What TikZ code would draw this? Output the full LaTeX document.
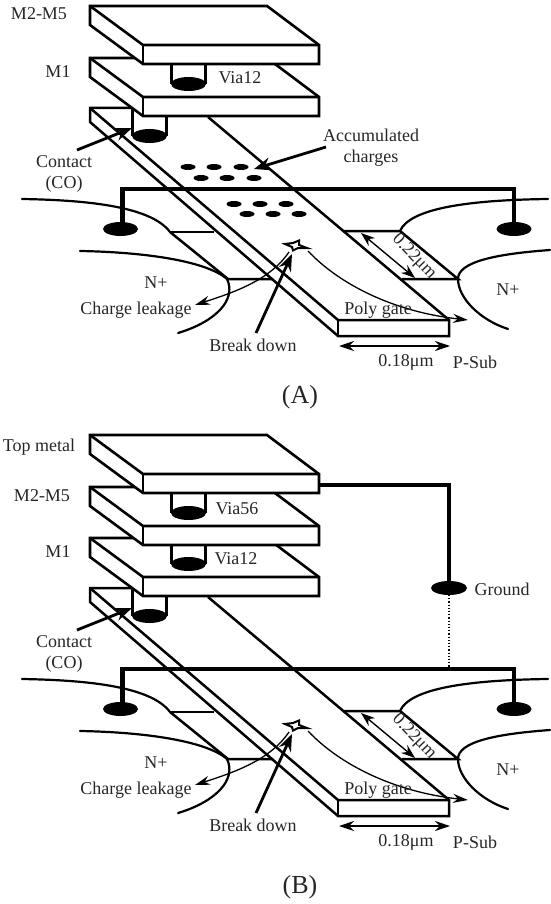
\documentclass[tikz,border=0pt]{standalone}
\usepackage{fontspec}
\setmainfont{Liberation Serif}
\usetikzlibrary{arrows.meta}
\tikzset{
  plate/.style={draw=black,fill=white,line width=2.6pt,line join=miter},
  gateline/.style={draw=black,line width=2.5pt,line join=miter},
  metalwire/.style={draw=black,line width=4.8pt,line join=miter},
  pad/.style={fill=black,draw=none},
  curveline/.style={draw=black,line width=2.2pt,line cap=round},
  dimline/.style={draw=black,line width=1.4pt,{Stealth[length=15pt,width=10pt]}-{Stealth[length=15pt,width=10pt]}},
  callout/.style={draw=black,line width=2.8pt,-{Stealth[length=17pt,width=13pt]}},
  flow/.style={draw=black,line width=1.3pt,-{Stealth[length=15pt,width=9pt]}},
  lbl/.style={font=\fontsize{18}{18}\selectfont,text=black!85,inner sep=0pt,align=center},
  capt/.style={font=\fontsize{26}{26}\selectfont,text=black!85,inner sep=0pt},
}
\newcommand{\metalplate}[1]{% y of back edge
  \path[plate] (90,#1) -- (267,#1) -- (319,#1+39) -- (319,#1+58) -- (143,#1+58) -- (90,#1+19) -- cycle;
  \draw[plate,fill=none] (90,#1) -- (143,#1+39) -- (319,#1+39);
  \draw[plate,fill=none] (143,#1+39) -- (143,#1+58);
}
\newcommand{\viaplug}[3]{% x centre, y top, y of ellipse
  \path[fill=white] (#1-17,#2) rectangle (#1+17,#3);
  \draw[gateline] (#1-17,#2) -- (#1-17,#3) (#1+17,#2) -- (#1+17,#3);
  \fill[pad] (#1,#3) ellipse (17.5 and 7);
}
\newcommand{\device}[1]{% common lower part, y offset
\begin{scope}[yshift=-#1pt]
  % diffusion outlines
  \draw[curveline] (22,199) .. controls (80,200) and (150,205) .. (170,232);
  \draw[gateline] (170,232) -- (214,232);
  \draw[gateline] (170,232) -- (228,279) -- (273,279);
  \draw[curveline] (80,251) .. controls (140,252) and (205,260) .. (227,279) .. controls (237,300) and (215,322) .. (178,333);
  \draw[gateline] (344,231) -- (400,231) -- (458,279) -- (402,279);
  \draw[curveline] (400,231) .. controls (410,208) and (470,200) .. (548,199);
  \draw[curveline] (550,250) .. controls (495,254) and (458,262) .. (458,279) .. controls (458,298) and (480,320) .. (508,329);
  % poly gate
  \draw[gateline] (133,108) -- (90,108) -- (90,122) -- (338,336) -- (449,336) -- (449,320) -- (208,117);
  \draw[gateline] (90,108) -- (338,320) -- (449,320);
  \draw[gateline] (338,320) -- (338,336);
  % substrate contact wire
  \draw[metalwire] (122.5,226) -- (122.5,189) -- (514,189) -- (514,226);
  \fill[pad] (120.5,229) ellipse (17.5 and 7);
  \fill[pad] (514,229) ellipse (17.5 and 7);
  % break-down spot
  \draw[line width=2pt,line join=miter] (285,244) -- (293,243) -- (299,240.5) -- (299,245) -- (307,248) -- (298,248) -- (293,250.5) -- (292,247) -- cycle;
  \draw[flow] (289,252) .. controls (270,280) and (235,292) .. (195,305);
  \draw[flow] (308,251) .. controls (340,285) and (395,312) .. (468,320);
  \draw[callout] (256,333) -- (292,254);
  \draw[dimline] (339,346) -- (450,346);
  \draw[line width=1.4pt,{Stealth[length=14pt,width=10pt]}-{Stealth[length=14pt,width=10pt]}] (361,233) -- (415,278);
  % gate contact
  \viaplug{149.5}{108}{136}
  % labels
  \node[lbl] at (64,162) {Contact};
  \node[lbl] at (64,184) {(CO)};
  \node[lbl] at (156,283) {N+};
  \node[lbl] at (508,290) {N+};
  \node[lbl] at (136,310) {Charge leakage};
  \node[lbl] at (253,345) {Break down};
  \node[lbl] at (378,310) {Poly gate};
  \node[lbl] at (406,362) {0.18μm};
  \node[lbl] at (475,362) {P-Sub};
  \node[lbl,rotate=-46] at (414,257) {0.22μm};
  \draw[callout] (77,150) -- (132,128);
\end{scope}}
\begin{document}
\begin{tikzpicture}[x=1pt,y=-1pt]
\useasboundingbox (0,0) rectangle (550,904);
% ===== A =====
\device{0}
\foreach \x/\y in {188/167,214/167,241/167,201/178,227/178,254/178,234/204,260/204,286/204,247/214,273/214,299/214}
  \fill[pad] (\x,\y) ellipse (7.5 and 3);
\draw[callout] (326,147) -- (254,169);
\metalplate{58}
\viaplug{188.5}{65}{84}
\metalplate{6}
\node[lbl] at (39,14) {M2-M5};
\node[lbl] at (58,72) {M1};
\node[lbl] at (240,78) {Via12};
\node[lbl] at (371,135) {Accumulated};
\node[lbl] at (371,158) {charges};
\node[capt] at (300,397) {(A)};
% ===== B =====
\device{480}
\metalplate{538}
\viaplug{188.5}{545}{564}
\metalplate{487}
\viaplug{188.5}{493}{513}
\metalplate{435}
\draw[metalwire] (319,485) -- (449,485) -- (449,585);
\fill[pad] (449,588) ellipse (18 and 7);
\draw[line width=1.2pt,dotted] (449,595) -- (449,667);
\node[lbl] at (39,447) {Top metal};
\node[lbl] at (42,496) {M2-M5};
\node[lbl] at (58,552) {M1};
\node[lbl] at (237,509) {Via56};
\node[lbl] at (236,559) {Via12};
\node[lbl] at (502,589) {Ground};
\node[capt] at (300,887) {(B)};
\end{tikzpicture}
\end{document}
